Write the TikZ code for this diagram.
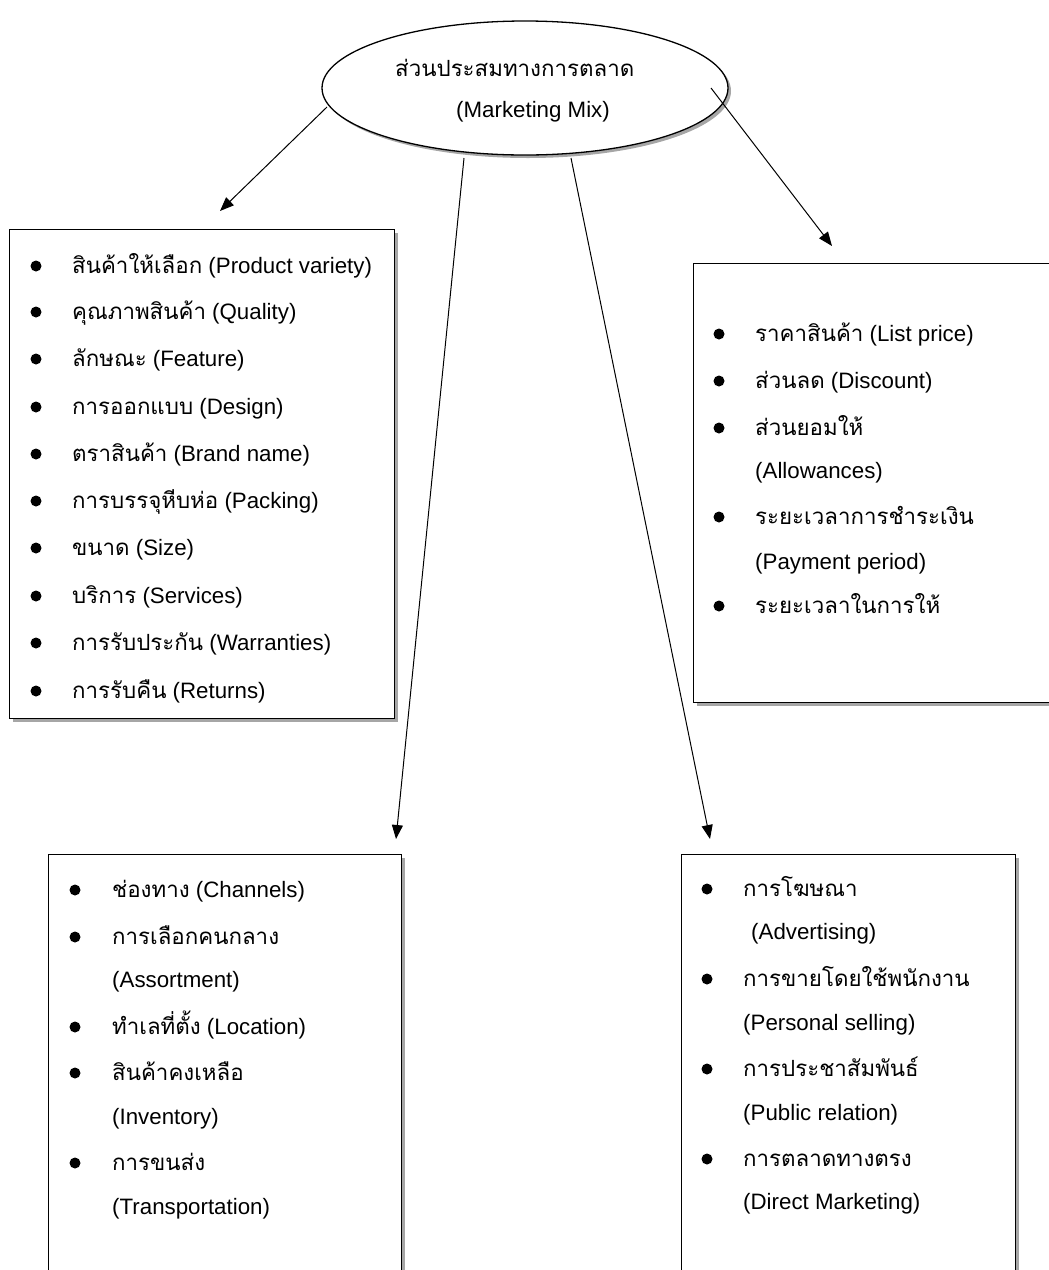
\documentclass[tikz,border=0pt]{standalone}
\usepackage{fontspec}
\setmainfont{Liberation Sans}
\newfontfamily\thfont[Script=Thai]{Loma}
\usetikzlibrary{shapes.geometric,arrows.meta}
\begin{document}
\begin{tikzpicture}[x=1pt,y=-1pt,
  font=\fontsize{22.3}{26}\selectfont,
  txt/.style={anchor=base west, inner sep=0pt},
  conn/.style={-{Triangle[length=14pt,width=11pt]}, line width=1pt},
  frame/.style={draw, line width=1.3pt, fill=white, inner sep=0pt, anchor=north west},
  shadowbox/.style={fill=gray!70, draw=none, inner sep=0pt, anchor=north west},
  dot/.style={circle, fill=black, inner sep=0pt, minimum size=11pt}]
\useasboundingbox (0,0) rectangle (1049,1270);
\clip (0,0) rectangle (1049,1270);

% central ellipse
\fill[gray!70] (528,91) ellipse [x radius=203pt, y radius=67pt];
\node[ellipse, draw, line width=1.3pt, fill=white, minimum width=406pt, minimum height=134pt, inner sep=0pt] (mm) at (525,88) {};
\node[txt] (mmth) at (395,76) {\thfont ส่วนประสมทางการตลาด};
\node[txt] (mmen) at (456,117) {(Marketing Mix)};

% boxes (shadow + frame)
\node[shadowbox, minimum width=385pt, minimum height=489pt] at (13,233) {};
\node[frame, minimum width=385pt, minimum height=489pt] (prod) at (9,229) {};
\node[shadowbox, minimum width=380pt, minimum height=439pt] at (697,267) {};
\node[frame, minimum width=380pt, minimum height=439pt] (price) at (693,263) {};
\node[shadowbox, minimum width=353pt, minimum height=440pt] at (52,858) {};
\node[frame, minimum width=353pt, minimum height=440pt] (place) at (48,854) {};
\node[shadowbox, minimum width=334pt, minimum height=440pt] at (685,858) {};
\node[frame, minimum width=334pt, minimum height=440pt] (promo) at (681,854) {};

% connectors
\coordinate (a1s) at (327,107); \coordinate (a1e) at (220,211);
\coordinate (a2s) at (464,158); \coordinate (a2e) at (396,839);
\coordinate (a3s) at (571,158); \coordinate (a3e) at (710,839);
\coordinate (a4s) at (711,88);  \coordinate (a4e) at (832,246);
\draw[conn] (a1s) -- (a1e);
\draw[conn] (a2s) -- (a2e);
\draw[conn] (a3s) -- (a3e);
\draw[conn] (a4s) -- (a4e);

% Product box
\foreach \y/\t/\e [count=\i] in {
  266/สินค้าให้เลือก/(Product variety),
  312/คุณภาพสินค้า/(Quality),
  359/ลักษณะ/(Feature),
  407/การออกแบบ/(Design),
  454/ตราสินค้า/(Brand name),
  501/การบรรจุหีบห่อ/(Packing),
  548/ขนาด/(Size),
  596/บริการ/(Services),
  643/การรับประกัน/(Warranties),
  691/การรับคืน/(Returns)} {
  \node[dot] (pb\i) at (36,\y) {};
  \node[txt] (pt\i) at (72,\y+7) {{\thfont \t} \e};
}

% Price box
\node[dot] (rb1) at (719,334) {};
\node[txt] (rt1) at (755,341) {{\thfont ราคาสินค้า} (List price)};
\node[dot] (rb2) at (719,381) {};
\node[txt] (rt2) at (755,388) {{\thfont ส่วนลด} (Discount)};
\node[dot] (rb3) at (719,428) {};
\node[txt] (rt3) at (755,435) {\thfont ส่วนยอมให้};
\node[txt] (rt3b) at (755,478) {(Allowances)};
\node[dot] (rb4) at (719,517) {};
\node[txt] (rt4) at (755,524) {\thfont ระยะเวลาการชำระเงิน};
\node[txt] (rt4b) at (755,569) {(Payment period)};
\node[dot] (rb5) at (719,606) {};
\node[txt] (rt5) at (755,613) {\thfont ระยะเวลาในการให้};

% Place box
\node[dot] (lb1) at (75,890) {};
\node[txt] (lt1) at (112,897) {{\thfont ช่องทาง} (Channels)};
\node[dot] (lb2) at (75,937) {};
\node[txt] (lt2) at (112,944) {\thfont การเลือกคนกลาง};
\node[txt] (lt2b) at (112,987) {(Assortment)};
\node[dot] (lb3) at (75,1027) {};
\node[txt] (lt3) at (112,1034) {{\thfont ทำเลที่ตั้ง} (Location)};
\node[dot] (lb4) at (75,1073) {};
\node[txt] (lt4) at (112,1080) {\thfont สินค้าคงเหลือ};
\node[txt] (lt4b) at (112,1124) {(Inventory)};
\node[dot] (lb5) at (75,1163) {};
\node[txt] (lt5) at (112,1170) {\thfont การขนส่ง};
\node[txt] (lt5b) at (112,1214) {(Transportation)};

% Promotion box
\node[dot] (ob1) at (707,889) {};
\node[txt] (ot1) at (743,896) {\thfont การโฆษณา};
\node[txt] (ot1b) at (751,939) {(Advertising)};
\node[dot] (ob2) at (707,979) {};
\node[txt] (ot2) at (743,986) {\thfont การขายโดยใช้พนักงาน};
\node[txt] (ot2b) at (743,1030) {(Personal selling)};
\node[dot] (ob3) at (707,1069) {};
\node[txt] (ot3) at (743,1076) {\thfont การประชาสัมพันธ์};
\node[txt] (ot3b) at (743,1120) {(Public relation)};
\node[dot] (ob4) at (707,1159) {};
\node[txt] (ot4) at (743,1166) {\thfont การตลาดทางตรง};
\node[txt] (ot4b) at (743,1209) {(Direct Marketing)};
\end{tikzpicture}
\end{document}
